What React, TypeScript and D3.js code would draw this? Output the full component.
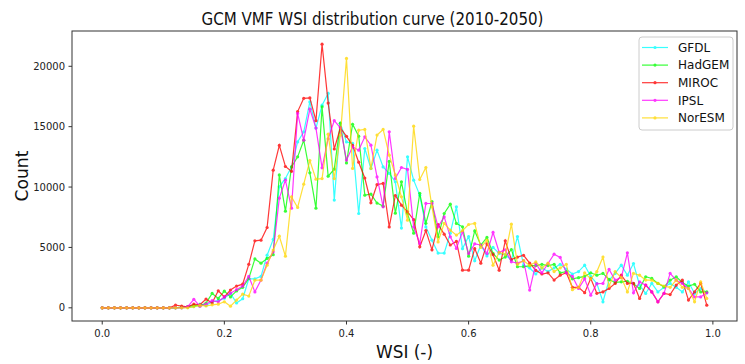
import React from "react";
import * as d3 from "d3";

// WSI bins 0.00 .. 0.99
const wsi = d3.range(100).map((i) => i / 100);

const models = ["GFDL", "HadGEM", "MIROC", "IPSL", "NorESM"];
const colors = ["#00ffff", "#00ff00", "#ff0000", "#ff00ff", "#ffd700"];

const gfdl = [
  0, 0, 0, 0, 0, 0, 0, 0, 0, 0,
  0, 0, 0, 0, 50, 100, 300, 200, 500, 600,
  800, 1200, 400, 750, 2400, 2400, 2600, 4360, 5660, 10020,
  10710, 11670, 13740, 14570, 17050, 14880, 16780, 17750, 8920, 15290,
  13740, 13610, 7810, 13190, 11540, 13050, 11670, 11130, 10430, 6600,
  12500, 10570, 9330, 6700, 5600, 4530, 4530, 6180, 8360, 4900,
  5900, 3900, 5200, 4300, 5000, 4500, 4400, 3950, 5900, 3530,
  3300, 2800, 3300, 3000, 3300, 3600, 3200, 2800, 3000, 3530,
  2600, 2000, 500, 2290, 2850, 3530, 2700, 3670, 1880, 1190,
  2020, 1320, 1700, 2020, 1700, 1320, 2150, 1190, 1600, 1240,
];

const hadgem = [
  0, 0, 0, 0, 0, 0, 0, 0, 0, 0,
  0, 0, 0, 50, 100, 200, 150, 400, 1190, 780,
  1380, 900, 1400, 1700, 2430, 4050, 3700, 4090, 4400, 11000,
  8000, 11670, 12500, 13880, 11180, 8250, 16640, 10900, 11480, 15290,
  12000, 15200, 14210, 9330, 9410, 8670, 8420, 12120, 7840, 10430,
  7800, 6180, 9480, 7000, 8800, 5880, 7810, 8580, 6990, 6710,
  4280, 6370, 5190, 5830, 4500, 3950, 4200, 4830, 3400, 3400,
  3500, 3500, 3600, 3500, 3600, 2900, 3000, 2400, 2500, 2600,
  2900, 2700, 2850, 2350, 2100, 2150, 2200, 2000, 1600, 2570,
  2430, 2020, 1740, 2290, 2570, 2100, 1800, 1950, 1320, 1320,
];

const miroc = [
  0, 0, 0, 0, 0, 0, 0, 0, 0, 0,
  0, 0, 220, 150, 80, 300, 250, 720, 400, 1410,
  910, 1470, 1800, 1960, 3600, 5550, 5600, 6650, 11400, 13450,
  11700, 11300, 16250, 17350, 17380, 15500, 21830, 16950, 13150, 14900,
  14200, 13450, 12060, 10750, 8700, 10200, 10300, 6700, 9300, 8500,
  7950, 7300, 5050, 6400, 4800, 6900, 6100, 5200, 5500, 3120,
  3120, 4900, 3700, 5300, 4400, 3120, 5550, 4000, 4200, 4350,
  3700, 3100, 2800, 2900, 2300, 2700, 2900, 1700, 1700, 1250,
  2430, 1200, 1320, 1600, 2020, 2700, 2020, 2020, 780, 1880,
  1320, 500, 1190, 1100, 1880, 2290, 640, 1320, 2020, 220,
];

const ipsl = [
  0, 0, 0, 0, 0, 0, 0, 0, 0, 0,
  0, 0, 0, 0, 100, 700, 140, 300, 600, 500,
  900, 1200, 1500, 1800, 2600, 1320, 2300, 3700, 4640, 9080,
  10570, 8250, 16100, 13880, 16450, 14880, 11590, 14000, 15500, 14900,
  12230, 13330, 13050, 14160, 13470, 10840, 8360, 14570, 10710, 11620,
  11460, 6710, 5330, 8640, 8640, 6710, 7530, 5880, 4920, 6290,
  4500, 5300, 5200, 4500, 6240, 4600, 4800, 3810, 3700, 3900,
  1470, 3670, 2900, 3670, 4440, 4170, 2900, 2600, 1600, 2400,
  1050, 2000, 2020, 3180, 2290, 2500, 4550, 1240, 2150, 1880,
  1320, 500, 1200, 2850, 2290, 2020, 1600, 900, 900, 1240,
];

const noresm = [
  0, 0, 0, 0, 0, 0, 0, 0, 0, 0,
  0, 0, 0, 0, 0, 100, 200, 150, 250, 300,
  500, 140, 640, 1130, 970, 2290, 2290, 3530, 4780, 5930,
  4280, 9190, 8310, 10240, 12190, 10650, 10700, 14380, 10700, 14300,
  20650, 11540, 14710, 14770, 11540, 14300, 14770, 12640, 11000, 9190,
  7260, 15040, 10630, 11620, 8360, 5460, 6990, 6430, 6020, 6400,
  6900, 6990, 5000, 5600, 3530, 4600, 4400, 6930, 3600, 3900,
  3500, 3800, 3300, 3700, 3000, 3300, 3600, 1500, 1700, 2900,
  2400, 3000, 4200, 1800, 3000, 2500, 1320, 2850, 2700, 2300,
  2290, 2020, 1800, 1700, 2300, 1700, 1600, 500, 2150, 780,
];

const seriesValues = [gfdl, hadgem, miroc, ipsl, noresm];
const xTicks = [0, 0.2, 0.4, 0.6, 0.8, 1.0];
const yTicks = [0, 5000, 10000, 15000, 20000];

const W = 745;
const H = 364;
const left = 72, right = 737, top = 31, bottom = 321;
const font = "DejaVu Sans, sans-serif";

const App = () => {
  const xExt = d3.extent(wsi) as [number, number];
  const xPad = (xExt[1] - xExt[0]) * 0.05;
  const x = d3.scaleLinear().domain([xExt[0] - xPad, xExt[1] + xPad]).range([left, right]);

  const yMax = d3.max(seriesValues.flat()) as number;
  const yPad = yMax * 0.05;
  const y = d3.scaleLinear().domain([-yPad, yMax + yPad]).range([bottom, top]);

  const line = d3
    .line<number>()
    .x((d, i) => x(wsi[i]))
    .y((d) => y(d));

  return (
    <svg
      width={W}
      height={H}
      style={{ position: "absolute", left: 0, top: 0, background: "#fff" }}
      fontFamily={font}
    >
      <text x={372.5} y={25} textAnchor="middle" fontSize={18.5} textLength={342} lengthAdjust="spacingAndGlyphs" fill="#111">
        GCM VMF WSI distribution curve (2010-2050)
      </text>

      {seriesValues.map((vals, s) => (
        <g key={models[s]} opacity={0.78}>
          <path d={line(vals) || ""} fill="none" stroke={colors[s]} strokeWidth={1.2} />
          {vals.map((v, i) => (
            <circle key={i} cx={x(wsi[i])} cy={y(v)} r={1.6} fill={colors[s]} />
          ))}
        </g>
      ))}

      <rect x={left} y={top} width={right - left} height={bottom - top} fill="none" stroke="#333" strokeWidth={1} />

      {xTicks.map((t) => (
        <g key={t} transform={`translate(${x(t)},${bottom})`}>
          <line y2={3.5} stroke="#333" />
          <text y={16} textAnchor="middle" fontSize={10} fill="#222">
            {t.toFixed(1)}
          </text>
        </g>
      ))}
      {yTicks.map((t) => (
        <g key={t} transform={`translate(${left},${y(t)})`}>
          <line x2={-3.5} stroke="#333" />
          <text x={-7} dy="0.35em" textAnchor="end" fontSize={10} fill="#222">
            {t}
          </text>
        </g>
      ))}

      <text x={(left + right) / 2} y={358} textAnchor="middle" fontSize={18} textLength={57} lengthAdjust="spacingAndGlyphs" fill="#111">
        WSI (-)
      </text>
      <text transform={`translate(28,${(top + bottom) / 2}) rotate(-90)`} textAnchor="middle" fontSize={18} textLength={51} lengthAdjust="spacingAndGlyphs" fill="#111">
        Count
      </text>

      <g>
        <rect x={639} y={37} width={94} height={93} rx={3} fill="#fff" fillOpacity={0.85} stroke="#ccc" />
        {models.map((m, s) => (
          <g key={m} transform={`translate(0,${47.5 + s * 17.6})`} opacity={0.78}>
            <line x1={642} x2={668} stroke={colors[s]} strokeWidth={1.2} />
            <circle cx={655} r={1.6} fill={colors[s]} />
          </g>
        ))}
        {models.map((m, s) => (
          <text key={m} x={678} y={47.5 + s * 17.6} dy="0.35em" fontSize={12} fill="#111">
            {m}
          </text>
        ))}
      </g>
    </svg>
  );
};

export default App;
